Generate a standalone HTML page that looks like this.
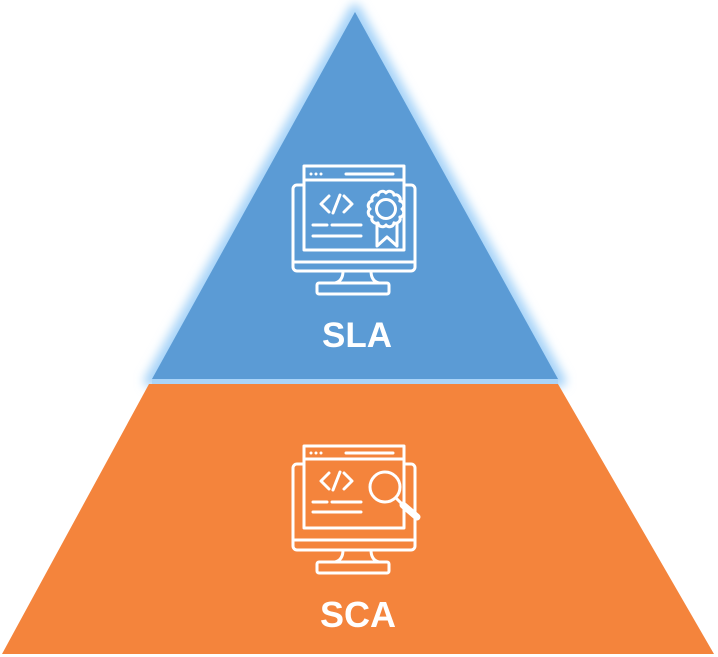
<!DOCTYPE html>
<html><head><meta charset="utf-8"><style>
html,body{margin:0;padding:0;background:#fff;}
svg{display:block;}
text{font-family:"Liberation Sans",sans-serif;font-weight:bold;fill:#fff;}
</style></head><body>
<svg width="718" height="657" viewBox="0 0 718 657" xmlns="http://www.w3.org/2000/svg">
<defs>
<filter id="glow" x="-30%" y="-30%" width="160%" height="160%">
<feGaussianBlur stdDeviation="5"/>
</filter>
</defs>
<!-- glow -->
<polygon points="355,10 150,381 560,381" fill="#a6d3f8" stroke="#a6d3f8" stroke-width="12" stroke-linejoin="round" filter="url(#glow)"/>
<rect x="152" y="378" width="406" height="7" fill="#aad4f8"/>
<!-- orange -->
<polygon points="149,384 558,384 714,654 2,654" fill="#F4843C"/>
<!-- blue -->
<polygon points="355,12 152,379 558,379" fill="#5B9BD5"/>

<!-- SLA icon -->
<g fill="none" stroke="#fff" stroke-width="3" stroke-linecap="round" stroke-linejoin="round">
  <path d="M304,185 H297 a4,4 0 0 0 -4,4 V267 a4,4 0 0 0 4,4 H411 a4,4 0 0 0 4,-4 V189 a4,4 0 0 0 -4,-4 H404"/>
  <line x1="293" y1="262" x2="415" y2="262"/>
  <rect x="304" y="166" width="100" height="84"/>
  <line x1="304" y1="180" x2="404" y2="180"/>
  <line x1="346" y1="174" x2="393" y2="174"/>
  <path d="M343,271 Q343,281 335,283 M371,271 Q371,281 379,283"/>
  <rect x="317" y="283" width="72" height="11" rx="2"/>
  <polyline points="329,196 321,204 329,212"/>
  <line x1="333" y1="213" x2="340" y2="195"/>
  <polyline points="344,196 352,204 344,212"/>
  <line x1="313" y1="225" x2="327" y2="225"/>
  <line x1="332" y1="225" x2="361" y2="225"/>
  <line x1="313" y1="236" x2="361" y2="236"/>
  <path d="M377,220 V246 L387,237 L397,246 V220" fill="#5B9BD5"/>
  <path d="M402,209 A4.5,4.5 0 0 1 399.86,217 A4.5,4.5 0 0 1 394,222.86 A4.5,4.5 0 0 1 386,225 A4.5,4.5 0 0 1 378,222.86 A4.5,4.5 0 0 1 372.14,217 A4.5,4.5 0 0 1 370,209 A4.5,4.5 0 0 1 372.14,201 A4.5,4.5 0 0 1 378,195.14 A4.5,4.5 0 0 1 386,193 A4.5,4.5 0 0 1 394,195.14 A4.5,4.5 0 0 1 399.86,201 A4.5,4.5 0 0 1 402,209 Z" fill="#5B9BD5"/>
  <circle cx="386" cy="209" r="9.5"/>
</g>
<g fill="#fff">
  <circle cx="311" cy="174" r="1.5"/><circle cx="316" cy="174" r="1.5"/><circle cx="321" cy="174" r="1.5"/>
</g>
<text x="357" y="347" font-size="35" text-anchor="middle">SLA</text>

<!-- SCA icon -->
<g transform="translate(0,279)">
<g fill="none" stroke="#fff" stroke-width="3" stroke-linecap="round" stroke-linejoin="round">
  <path d="M304,185 H297 a4,4 0 0 0 -4,4 V267 a4,4 0 0 0 4,4 H411 a4,4 0 0 0 4,-4 V189 a4,4 0 0 0 -4,-4 H404"/>
  <line x1="293" y1="261" x2="415" y2="261"/>
  <rect x="304" y="167" width="100" height="82"/>
  <line x1="304" y1="180" x2="404" y2="180"/>
  <line x1="346" y1="174" x2="393" y2="174"/>
  <path d="M343,271 Q343,281 335,283 M371,271 Q371,281 379,283"/>
  <rect x="317" y="283" width="72" height="11" rx="2"/>
  <polyline points="329,194 321,202 329,210"/>
  <line x1="333" y1="211" x2="340" y2="193"/>
  <polyline points="344,194 352,202 344,210"/>
  <line x1="313" y1="223" x2="327" y2="223"/>
  <line x1="332" y1="223" x2="361" y2="223"/>
  <line x1="313" y1="233" x2="361" y2="233"/>
  <line x1="396" y1="219" x2="402" y2="225" stroke-width="3"/>
  <line x1="403" y1="226" x2="417" y2="238" stroke-width="7"/>
  <circle cx="385" cy="208" r="15" fill="#F4843C"/>
</g>
<g fill="#fff">
  <circle cx="311" cy="174" r="1.5"/><circle cx="316" cy="174" r="1.5"/><circle cx="321" cy="174" r="1.5"/>
</g>
</g>
<text x="358" y="627" font-size="36" text-anchor="middle">SCA</text>
</svg>
</body></html>
